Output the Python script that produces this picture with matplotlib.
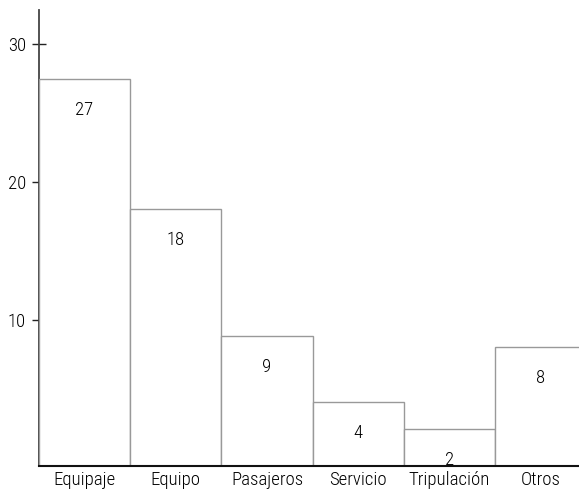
import matplotlib
matplotlib.use('Agg')
import matplotlib.pyplot as plt

plt.rcParams['font.family'] = ['Roboto Condensed', 'DejaVu Sans']
plt.rcParams['font.weight'] = 'light'

categorias = ['Equipaje', 'Equipo', 'Pasajeros', 'Servicio', 'Tripulación', 'Otros']
quejas = [27, 18, 9, 4, 2, 8]
# heights as drawn in the picture (slightly off the printed counts)
alturas = [27.5, 18.1, 8.85, 4.1, 2.15, 8.05]
marcas_y = [10, 20, 30]

y_min = -0.55
fig = plt.figure(figsize=(5.79, 4.90), dpi=100)
ax = fig.add_axes([39 / 579, 24 / 490, 540 / 579, 456 / 490])

x = list(range(len(categorias)))
ax.bar(x, [h - y_min for h in alturas], bottom=y_min, width=1.0,
       color='white', edgecolor='#999999', linewidth=1.0, zorder=3)

for xi, h, n in zip(x, alturas, quejas):
    ax.annotate(str(n), (xi, h), xytext=(0, -31), textcoords='offset pixels',
                ha='center', va='center', fontsize=13.5, zorder=4)

ax.set_xlim(-0.5, 5.42)
ax.set_ylim(y_min, 32.5)
ax.set_xticks(x)
ax.set_xticklabels(categorias, fontsize=13.5)
ax.set_yticks(marcas_y)
ax.set_yticklabels([str(v) for v in marcas_y], fontsize=13.5)
ax.tick_params(axis='x', length=0, pad=3.5)
ax.tick_params(axis='y', direction='inout', length=10, width=1, color='#222222', pad=4.4)

for s in ['top', 'right']:
    ax.spines[s].set_visible(False)
ax.spines['left'].set_color('#444444')
ax.spines['left'].set_linewidth(1.3)
ax.spines['bottom'].set_color('#111111')
ax.spines['bottom'].set_linewidth(1.5)
ax.spines['bottom'].set_zorder(5)

plt.savefig('out.png', dpi=100)
